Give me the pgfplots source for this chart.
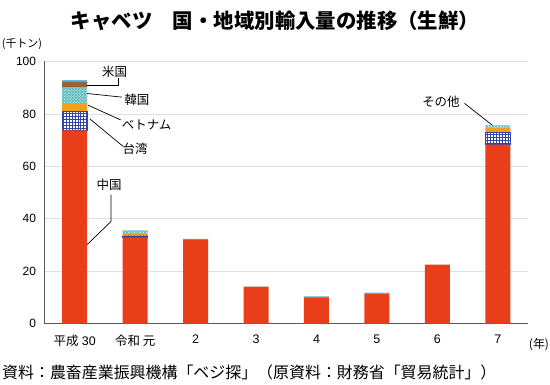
\documentclass[border=0pt]{standalone}
\usepackage{fontspec}
\setmainfont{Liberation Sans}
\newfontfamily\jp{Noto Sans CJK JP}
\usepackage{pgfplots}
\pgfplotsset{compat=1.18}
\usetikzlibrary{patterns}
\definecolor{cn}{RGB}{232,62,26}
\definecolor{tw}{RGB}{50,70,165}
\definecolor{vn}{RGB}{244,160,30}
\definecolor{kr}{RGB}{100,190,190}
\definecolor{us}{RGB}{150,100,55}
\definecolor{ot}{RGB}{90,190,230}
\definecolor{axc}{RGB}{90,90,90}
\definecolor{grc}{RGB}{225,225,225}
\tikzset{lab/.style={font=\jp\fontsize{12.5}{14}\selectfont}, ln/.style={black, line width=0.7pt}}
\begin{document}
\begin{tikzpicture}
\path[use as bounding box] (0bp,0bp) rectangle (550bp,385bp);
\begin{axis}[
  at={(44.5bp,61.5bp)}, anchor=south west,
  scale only axis, width=483.5bp, height=262bp,
  xmin=-0.5, xmax=7.5, ymin=0, ymax=100,
  ybar stacked, bar width=25bp,
  axis lines*=left,
  axis line style={draw=axc, line width=1.2pt, -},
  ymajorgrids, grid style={draw=grc, line width=0.7pt},
  ytick={0,20,40,60,80,100},
  xtick={0,1,2,3,4,5,6,7},
  xticklabels={{\jp 平成} 30,{\jp 令和 元},2,3,4,5,6,7},
  major tick length=0pt,
  /pgf/number format/assume math mode=true,
  yticklabel style={font=\fontsize{12}{14}\selectfont, xshift=-5bp},
  xticklabel style={font=\fontsize{12.5}{14}\selectfont, yshift=-8bp},
  clip=false,
]
\addplot[fill=cn, draw=none] coordinates {(0,73.7) (1,32.9) (2,32.0) (3,13.5) (4,10.0) (5,11.3) (6,22.5) (7,68.3)};
\addplot[fill=white, draw=tw, line width=0.4pt, postaction={pattern=grid, pattern color=tw}] coordinates {(0,7.3) (1,0.6) (2,0) (3,0) (4,0) (5,0) (6,0) (7,4.7)};
\addplot[fill=vn, draw=none] coordinates {(0,3.1) (1,1.0) (2,0) (3,0) (4,0) (5,0) (6,0) (7,1.9)};
\addplot[fill=kr, draw=none, postaction={pattern=crosshatch dots, pattern color=white}] coordinates {(0,5.9) (1,0.6) (2,0) (3,0) (4,0) (5,0) (6,0) (7,0.5)};
\addplot[fill=us, draw=none] coordinates {(0,2.4) (1,0.1) (2,0.3) (3,0.6) (4,0.2) (5,0) (6,0) (7,0)};
\addplot[fill=ot, draw=none] coordinates {(0,0.5) (1,0.3) (2,0) (3,0) (4,0.2) (5,0.5) (6,0) (7,0.2)};

\node[lab] at (axis cs:0.66,96.2) {米国};
\draw[ln] (axis cs:0.2,91.0) -- (axis cs:0.72,91.0) -- (axis cs:0.72,93.8);
\node[lab] at (axis cs:1.03,85.3) {韓国};
\draw[ln] (axis cs:0.2,87.8) -- (axis cs:0.78,86.4);
\node[lab] at (axis cs:1.19,75.8) {ベトナム};
\draw[ln] (axis cs:0.215,83.4) -- (axis cs:0.76,77.7);
\node[lab] at (axis cs:1.0,66.6) {台湾};
\draw[ln] (axis cs:0.25,78.1) -- (axis cs:0.8,67.6);
\node[lab] at (axis cs:0.57,52.9) {中国};
\draw[ln] (axis cs:0.6,49.2) -- (axis cs:0.6,38.9) -- (axis cs:0.2,30.0);
\node[lab] at (axis cs:6.06,84.5) {その他};
\draw[ln] (axis cs:6.45,84.0) -- (axis cs:6.92,75.5);
\end{axis}
\node[font=\jp\bfseries\fontsize{20.5}{24}\selectfont] at (275bp,364bp) {キャベツ　国・地域別輸入量の推移（生鮮）};
\node[font=\jp\fontsize{11}{13}\selectfont] at (22bp,341bp) {(千トン)};
\node[font=\jp\fontsize{12}{14}\selectfont] at (539bp,40bp) {(年)};
\node[font=\jp\fontsize{16}{18}\selectfont, anchor=west, inner sep=0pt] at (2bp,13bp) {資料：農畜産業振興機構「ベジ探」（原資料：財務省「貿易統計」）};
\end{tikzpicture}
\end{document}
